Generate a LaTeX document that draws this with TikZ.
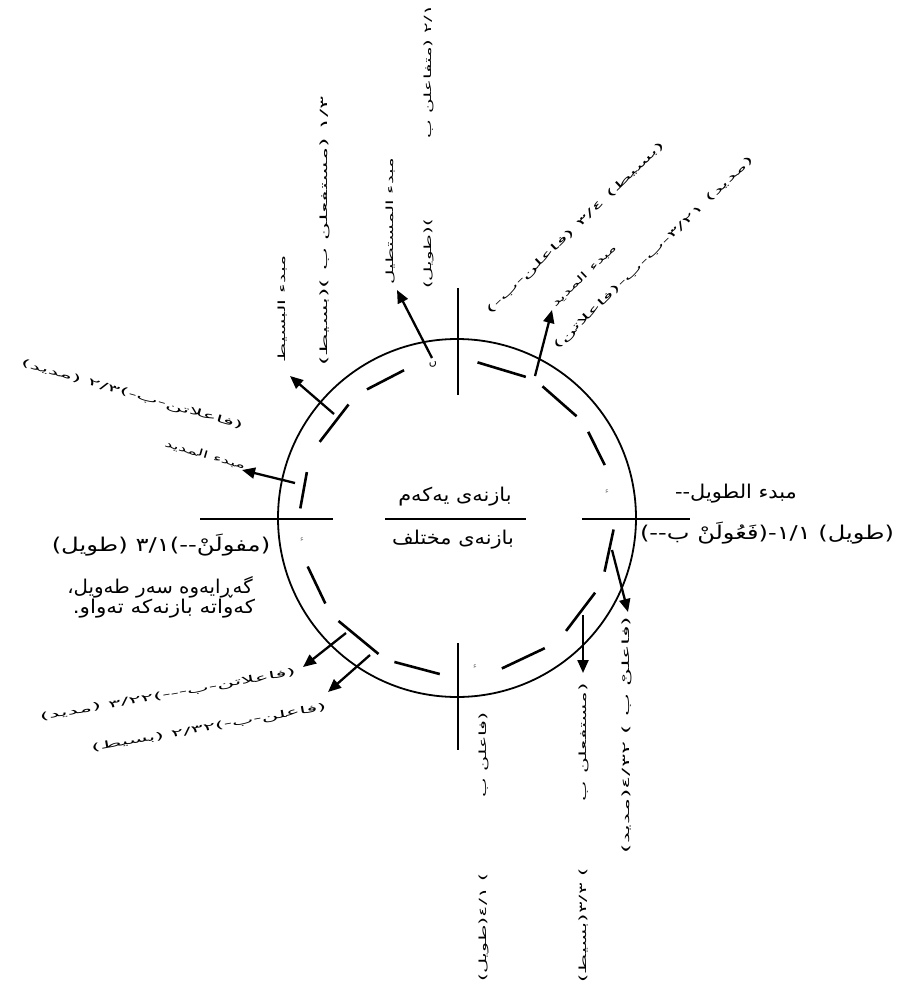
\documentclass[tikz,border=0pt]{standalone}
\usepackage{fontspec}
\usetikzlibrary{arrows.meta}
\newfontfamily\arabicfont[Script=Arabic,Ligatures=TeXOff]{DejaVu Sans}
\TeXXeTstate=1
% text widened by #1
\newcommand{\artext}[2][1.1]{\scalebox{#1}[1]{#2}}
\newcommand{\widetext}[2]{\scalebox{#1}[1.1]{#2}}

\begin{document}
\begin{tikzpicture}[x=1pt,y=-1pt,
    lbl/.style={font=\fontsize{19}{22}\arabicfont, inner sep=0pt},
    tinylbl/.style={font=\fontsize{9}{11}\arabicfont, inner sep=0pt},
    crossmark/.style={font=\fontsize{8}{9}\arabicfont, text=black!50, inner sep=0pt},
    arr/.style={-{Triangle[length=13pt,width=11pt]}, line width=2.3pt},
    dashseg/.style={line width=2.6pt},
    crossline/.style={line width=1.8pt}]
  \useasboundingbox (0,0) rectangle (906,987);
  \coordinate (c) at (457,518);
  % the ring and its dashed inner ring
  \draw[line width=1.8pt] (c) circle (179);
  \foreach \a/\b in {109.7/125, 133.7/151, 163/176.5, 198/213, 221/240, 246.5/263.7,
                     286.6/304, 314/331.6, 340/355.8, 19.7/33.3, 40.4/57, 64/82.5}
    \draw[dashseg] ([shift={(-\a:157)}]c) -- ([shift={(-\b:157)}]c);
  % cross
  \draw[crossline] (458,288) -- (458,395);
  \draw[crossline] (458,643) -- (458,750);
  \draw[crossline] (200,519) -- (333,519);
  \draw[crossline] (582,519) -- (690,519);
  \draw[crossline] (385,519) -- (526,519);
  % marks at the cross
  \node[font=\fontsize{11}{12}\arabicfont, inner sep=0pt] (nun) at (433,364) {ں};
  \node[crossmark] (m1) at (607,492) {ء};
  \node[crossmark] (m2) at (302,540) {ء};
  \node[crossmark] (m3) at (475,667) {ء};
  % centre
  \node[lbl] (first) at (455,497) {\artext{\beginR بازنەی یەکەم\endR}};
  \node[lbl] (mixed) at (453,540) {\artext{\beginR بازنەی مختلف\endR}};
  % horizontal labels
  \node[lbl] (tawilA) at (736,494) {\artext{\beginR مبدء الطويل--\endR}};
  \node[lbl] (tawilB) at (767,533) {\artext[1.27]{\beginR (طويل) ١/١-(فَعُولَنْ ب--)\endR}};
  \node[lbl] (tawilC) at (161,545) {\artext[1.28]{\beginR (مفولَنْ--)٣/١ (طويل)\endR}};
  \node[lbl] (backA) at (160,587) {\artext[1.04]{\beginR گەڕایەوە سەر طەویل،\endR}};
  \node[lbl] (backB) at (164,609) {\artext[1.13]{\beginR کەواتە بازنەکە تەواو.\endR}};
  % vertical labels at the top
  \node[tinylbl, rotate=90] (basitA) at (282,309) {\widetext{2.3}{\beginR مبدء البسيط\endR}};
  \node[tinylbl, rotate=90] (basitB) at (325,231) {\widetext{2.7}{\beginR ١/٣ (مستفعلن ب )(بسيط)\endR}};
  \node[tinylbl, rotate=90] (mustA) at (390,221) {\widetext{2.2}{\beginR مبدء المستطيل\endR}};
  \node[tinylbl, rotate=90] (tawilD) at (429,147) {\widetext{2.2}{\beginR ٢/١ (متفاعلن ب \hspace{34pt})(طويل)\endR}};
  % slanted labels, top right
  \node[tinylbl, rotate=44] (basitC) at (576,228) {\widetext{2.65}{\beginR (بسيط) ٣/٤ (فاعلن-ب-)\endR}};
  \node[tinylbl, rotate=44] (madidA) at (584,276) {\widetext{2.05}{\beginR مبدء المديد\endR}};
  \node[tinylbl, rotate=44] (madidB) at (654,253) {\widetext{2.6}{\beginR (مديد) ٣/٢١-ب-ب-(فاعلاتن)\endR}};
  % slanted labels, left
  \node[tinylbl, rotate=-16] (madidC) at (132,395) {\widetext{2.6}{\beginR (فاعلاتن-ب-)٢/٣ (مديد)\endR}};
  \node[tinylbl, rotate=-16] (madidD) at (205,455) {\widetext{2}{\beginR مبدء المديد\endR}};
  \node[tinylbl, rotate=10] (madidE) at (168,695) {\widetext{2.6}{\beginR (فاعلاتن-ب---)٣/٢٢ (مديد)\endR}};
  \node[tinylbl, rotate=10] (basitD) at (209,728) {\widetext{2.55}{\beginR (فاعلن-ب-)٢/٣٢ (بسيط)\endR}};
  % vertical labels at the bottom
  \node[tinylbl, rotate=90] (tawilE) at (484,847) {\widetext{2.3}{\beginR (فاعلن ب \hspace{30pt}) ٤/١(طويل)\endR}};
  \node[tinylbl, rotate=90] (basitE) at (584,833) {\widetext{2.4}{\beginR (مستفعلن ب \hspace{25pt}) ٣/٣(بسيط)\endR}};
  \node[tinylbl, rotate=90] (madidF) at (627,735) {\widetext{2.7}{\beginR (فاعلنْ ب ) ٤/٣٢(مديد)\endR}};
  % arrows
  \coordinate (s1) at (432,358); \coordinate (e1) at (397,290);
  \coordinate (s2) at (334,414); \coordinate (e2) at (290,376);
  \coordinate (s3) at (295,483); \coordinate (e3) at (242,470);
  \coordinate (s4) at (535,376); \coordinate (e4) at (552,310);
  \coordinate (s5) at (612,550); \coordinate (e5) at (628,612);
  \coordinate (s6) at (583,615); \coordinate (e6) at (583,673);
  \coordinate (s7) at (346,633); \coordinate (e7) at (303,667);
  \coordinate (s8) at (370,655); \coordinate (e8) at (328,692);
  \foreach \i in {1,...,8}
    \draw[arr] (s\i) -- (e\i);
\end{tikzpicture}
\end{document}
